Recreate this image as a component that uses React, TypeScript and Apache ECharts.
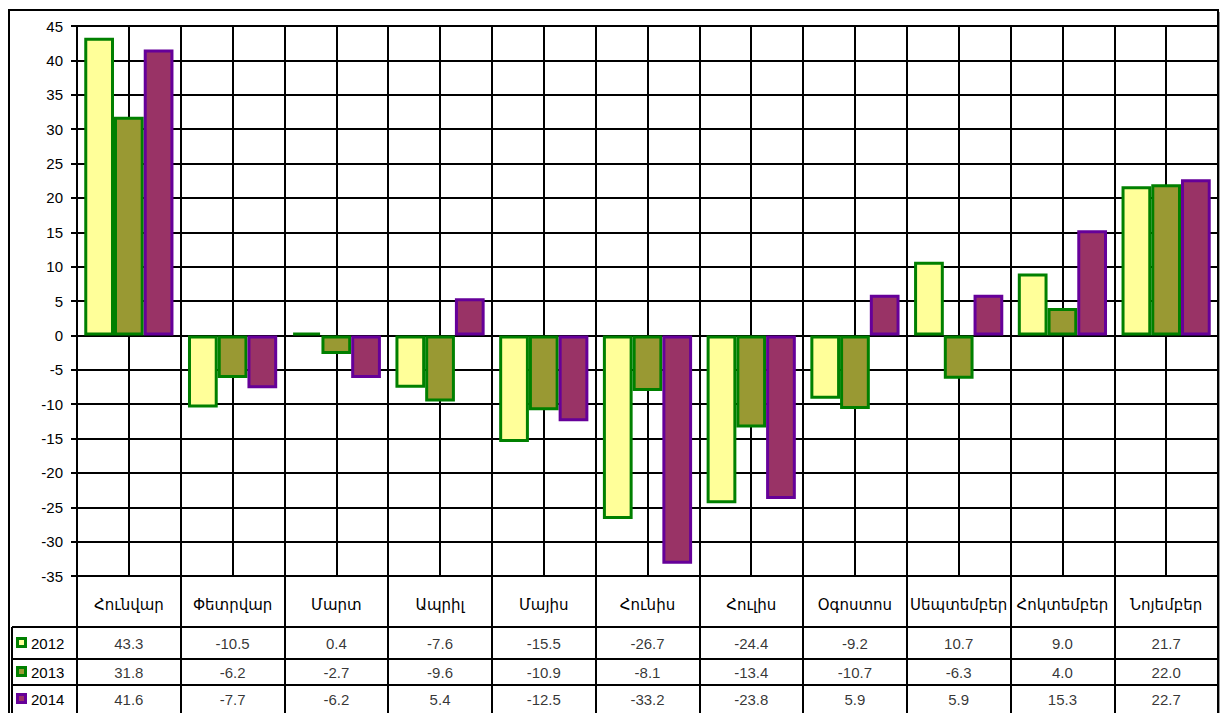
import React, { useEffect, useRef } from "react";
import * as echarts from "echarts";

const months = ["Հունվար", "Փետրվար", "Մարտ", "Ապրիլ", "Մայիս", "Հունիս", "Հուլիս", "Օգոստոս", "Սեպտեմբեր", "Հոկտեմբեր", "Նոյեմբեր"];
const years = ["2012", "2013", "2014"];
const values2012 = [43.3, -10.5, 0.4, -7.6, -15.5, -26.7, -24.4, -9.2, 10.7, 9.0, 21.7];
const values2013 = [31.8, -6.2, -2.7, -9.6, -10.9, -8.1, -13.4, -10.7, -6.3, 4.0, 22.0];
const values2014 = [41.6, -7.7, -6.2, 5.4, -12.5, -33.2, -23.8, 5.9, 5.9, 15.3, 22.7];
const yMin = -35;
const yMax = 45;
const yStep = 5;

const allValues = [values2012, values2013, values2014];
const fills = ["#FFFF99", "#999933", "#993366"];
const borders = ["#008000", "#008000", "#660099"];

// layout
const W = 1220;
const H = 713;
const PLOT_LEFT = 77;
const PLOT_TOP = 26;
const PLOT_RIGHT = 1218;
const PLOT_BOTTOM = 576;
const HEADER_BOTTOM = 627;
const ROW_LINES = [627, 659, 685, 713];
const TABLE_LEFT = 12;
const FONT = "'Liberation Sans', Arial, 'DejaVu Sans', sans-serif";

export default function App() {
  const ref = useRef<HTMLDivElement>(null);
  useEffect(() => {
    if (!ref.current) return;
    const chart = echarts.init(ref.current, undefined, { renderer: "svg" });
    const rowCenters = years.map((_, r) => (ROW_LINES[r] + ROW_LINES[r + 1]) / 2 - PLOT_BOTTOM);
    const halfCats = months.flatMap((m) => [m + "-a", m + "-b"]);

    const barSeries = years.map((y, r) => ({
      type: "bar",
      name: y,
      xAxisIndex: 0,
      yAxisIndex: 0,
      data: allValues[r],
      barGap: "0%",
      barCategoryGap: "14%",
      itemStyle: { color: fills[r], borderColor: borders[r], borderWidth: 3 },
      z: 5,
    }));

    const tableSeries = years.map((y, r) => ({
      type: "scatter",
      name: "t" + y,
      xAxisIndex: 2,
      yAxisIndex: 1,
      symbolSize: 1,
      itemStyle: { color: "rgba(0,0,0,0)" },
      silent: true,
      data: months.map((_, i) => [i, rowCenters[r], allValues[r][i]]),
      label: {
        show: true,
        position: "inside",
        formatter: (p: any) => Number(p.value[2]).toFixed(1),
        color: "#000",
        fontSize: 15,
        fontFamily: FONT,
      },
    }));

    const graphic: any[] = [
      {
        type: "rect",
        shape: { x: 9, y: 10, width: 1209, height: 720 },
        style: { fill: "none", stroke: "#000", lineWidth: 2 },
        z: 20,
      },
      {
        type: "line",
        shape: { x1: 1219.5, y1: 12, x2: 1219.5, y2: 713 },
        style: { stroke: "#999", lineWidth: 1 },
        z: 20,
      },
      {
        type: "line",
        shape: { x1: TABLE_LEFT, y1: HEADER_BOTTOM, x2: TABLE_LEFT, y2: H },
        style: { stroke: "#000", lineWidth: 2 },
        z: 20,
      },
    ];
    ROW_LINES.slice(0, 3).forEach((yy) => {
      graphic.push({
        type: "line",
        shape: { x1: TABLE_LEFT, y1: yy, x2: PLOT_RIGHT, y2: yy },
        style: { stroke: "#000", lineWidth: 2 },
        z: 20,
      });
    });
    years.forEach((y, r) => {
      const cy = rowCenters[r] + PLOT_BOTTOM;
      graphic.push({
        type: "rect",
        shape: { x: 17.5, y: cy - 4.5, width: 8, height: 8 },
        style: { fill: fills[r], stroke: borders[r], lineWidth: 3 },
        z: 20,
      });
      graphic.push({
        type: "text",
        x: 31,
        y: cy,
        style: { text: y, fill: "#000", fontSize: 15, fontFamily: FONT, verticalAlign: "middle", align: "left" },
        z: 20,
      });
    });

    chart.setOption({
      animation: false,
      backgroundColor: "#fff",
      textStyle: { fontFamily: FONT },
      grid: [
        { left: PLOT_LEFT, top: PLOT_TOP, width: PLOT_RIGHT - PLOT_LEFT, height: PLOT_BOTTOM - PLOT_TOP },
        { left: PLOT_LEFT, top: PLOT_BOTTOM, width: PLOT_RIGHT - PLOT_LEFT, height: H - PLOT_BOTTOM },
      ],
      xAxis: [
        {
          type: "category",
          gridIndex: 0,
          data: months,
          position: "bottom",
          axisLine: { show: false },
          axisTick: { show: false },
          axisLabel: { interval: 0, margin: 21, fontSize: 15, color: "#000", fontFamily: FONT },
          splitLine: { show: true, interval: 0, lineStyle: { color: "#000", width: 2 } },
        },
        {
          type: "category",
          gridIndex: 0,
          data: halfCats,
          position: "bottom",
          axisLine: { show: false },
          axisTick: { show: false },
          axisLabel: { show: false },
          splitLine: { show: true, interval: 0, lineStyle: { color: "#000", width: 2 } },
        },
        {
          type: "category",
          gridIndex: 1,
          data: months,
          axisLine: { show: false },
          axisTick: { show: false },
          axisLabel: { show: false },
          splitLine: { show: true, interval: 0, lineStyle: { color: "#000", width: 2 } },
        },
      ],
      yAxis: [
        {
          type: "value",
          gridIndex: 0,
          min: yMin,
          max: yMax,
          interval: yStep,
          axisLine: { show: true, lineStyle: { color: "#000", width: 2 } },
          axisTick: { show: true, length: 6, lineStyle: { color: "#000", width: 2 } },
          axisLabel: { fontSize: 15, color: "#000", margin: 14, fontFamily: FONT },
          splitLine: { show: true, lineStyle: { color: "#000", width: 2 } },
        },
        {
          type: "value",
          gridIndex: 1,
          min: 0,
          max: H - PLOT_BOTTOM,
          inverse: true,
          show: false,
        },
      ],
      series: [...barSeries, ...tableSeries],
      graphic,
    });
    return () => chart.dispose();
  }, []);
  return <div ref={ref} style={{ position: "fixed", left: 0, top: 0, width: W, height: H }} />;
}
